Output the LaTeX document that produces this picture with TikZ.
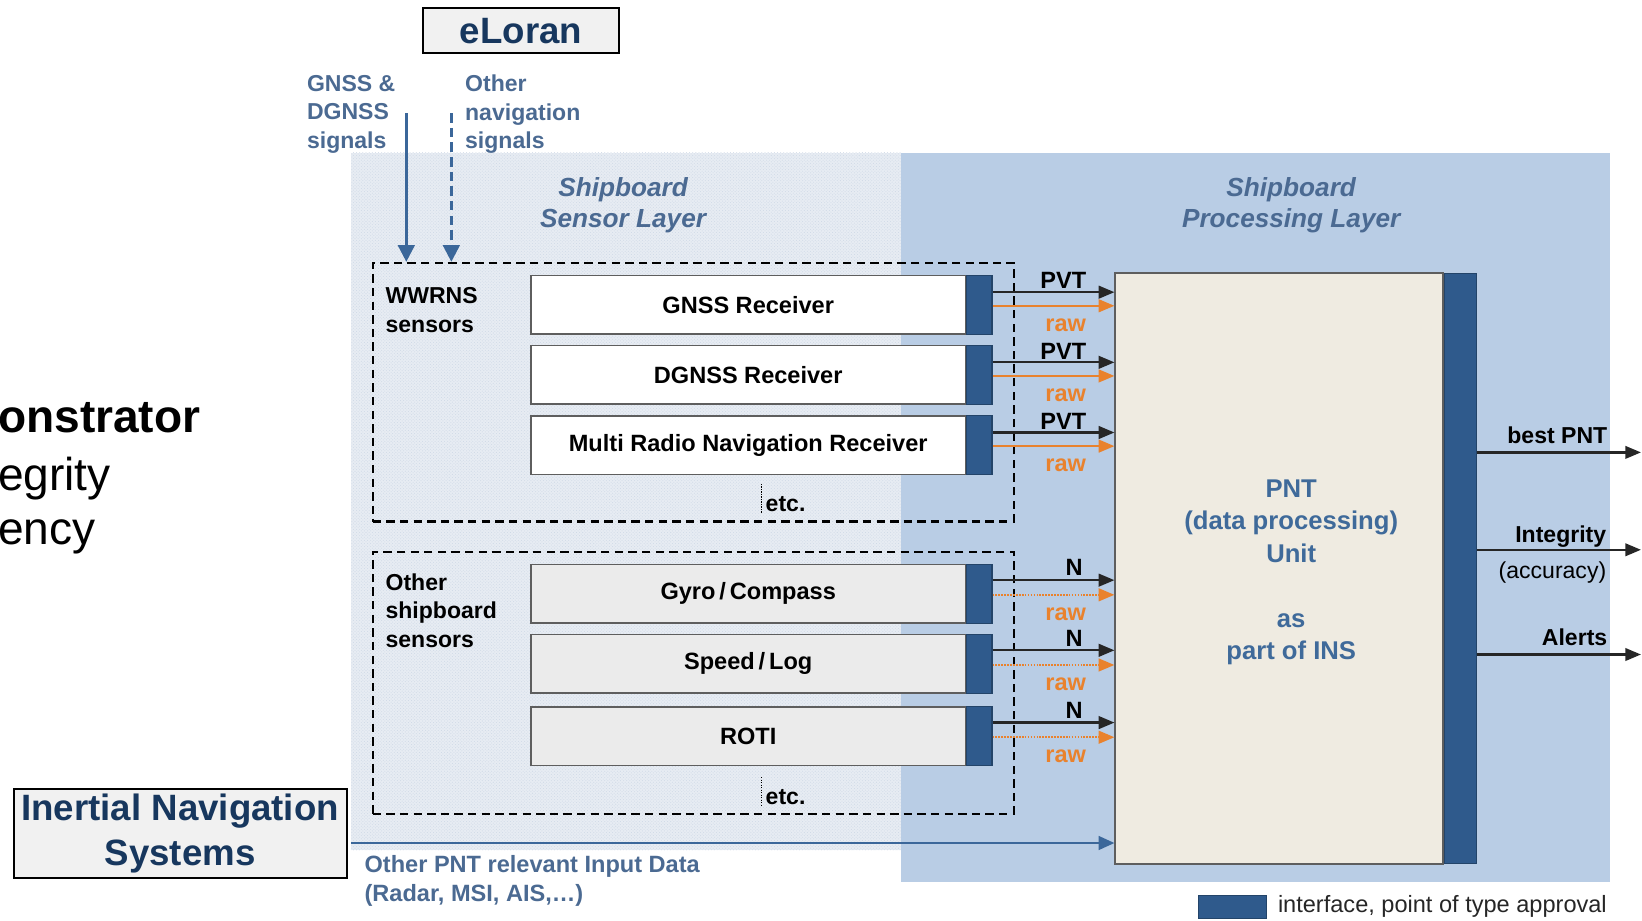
\documentclass[tikz,border=0pt]{standalone}
\usepackage{fontspec}
\setmainfont{Liberation Sans}
\usetikzlibrary{arrows.meta,patterns,positioning}

\definecolor{navy}{HTML}{17375E}
\definecolor{lblblue}{HTML}{4B6A92}
\definecolor{pnttxt}{HTML}{3F6A9A}
\definecolor{proclayer}{HTML}{B9CDE5}
\definecolor{senslayer}{HTML}{E7ECF3}
\definecolor{sensdots}{HTML}{CFD9E6}
\definecolor{ifblue}{HTML}{2F5A8C}
\definecolor{rawor}{HTML}{E9822D}
\definecolor{sigblue}{HTML}{3B679A}
\definecolor{boxgray}{HTML}{5E5E5E}
\definecolor{sensgray}{HTML}{EBEBEB}
\definecolor{pntfill}{HTML}{EFEBE1}
\definecolor{titlefill}{HTML}{F1F1F1}

\newcommand\fsz[2]{\fontsize{#1}{#2}\selectfont}

\tikzset{
  tip/.style={-{Triangle[length=15pt,width=12pt]}},
  sensorbox/.style={draw=boxgray, line width=1.6pt, minimum width=415pt,
    minimum height=56pt, inner sep=0pt, font=\fsz{22.5}{26}\bfseries},
  iface/.style={fill=ifblue, draw=ifblue!75!black, line width=1pt,
    minimum width=24pt, minimum height=56pt, inner sep=0pt},
  groupbox/.style={draw=black, line width=2pt, dash pattern=on 8pt off 5pt,
    minimum width=612pt, inner sep=0pt},
  grouplbl/.style={font=\fsz{22}{27}\bfseries, align=left, inner sep=0pt, anchor=west},
  siglbl/.style={font=\fsz{22}{27}\bfseries, text=lblblue, align=left, inner sep=0pt, anchor=west},
  layerlbl/.style={font=\fsz{25}{30}\bfseries\itshape, text=lblblue, align=center, inner sep=0pt},
  titlebox/.style={draw=black, line width=2pt, fill=titlefill, text=navy,
    font=\fsz{35}{43}\bfseries, align=center, inner sep=0pt},
  outarrow/.style={tip, line width=2.2pt, draw=black!85},
  rawarrow/.style={tip, line width=2.2pt, draw=rawor},
  rawdotted/.style={tip, line width=2.2pt, draw=rawor, dash pattern=on 1.6pt off 1.2pt},
  datalbl/.style={font=\fsz{22.5}{26}\bfseries, inner sep=0pt},
  rawlbl/.style={font=\fsz{22.5}{26}\bfseries, text=rawor, inner sep=0pt},
  outlbl/.style={font=\fsz{22}{26}\bfseries, inner sep=0pt, anchor=east},
  sigarrow/.style={-{Triangle[length=16pt,width=16pt]}, line width=2.5pt, draw=sigblue},
  etcline/.style={draw=black, line width=1.2pt, dash pattern=on 1.2pt off 1.2pt},
}

\begin{document}
\begin{tikzpicture}[x=1pt, y=-1pt]
\useasboundingbox (0,0) rectangle (1568,879);

% layer backgrounds
\fill[senslayer] (335,146) rectangle (860,812);
\fill[pattern=crosshatch dots, pattern color=sensdots] (335,146) rectangle (860,812);
\fill[proclayer] (860,146) rectangle (1537,842);

\node[layerlbl] (senslbl) at (595,196) {Shipboard\\Sensor Layer};
\node[layerlbl] (proclbl) at (1233,196) {Shipboard\\Processing Layer};

% slide text cut at the left edge
\node[anchor=west, inner sep=0pt, font=\fsz{44}{52}\bfseries] (sl1) at (-2,399) {onstrator};
\node[anchor=west, inner sep=0pt, font=\fsz{44}{52}] (sl2) at (-2,457) {egrity};
\node[anchor=west, inner sep=0pt, font=\fsz{44}{52}] (sl3) at (-2,513) {ency};

% title boxes
\node[titlebox, minimum width=187pt, minimum height=43pt] (eloran) at (497.5,29.5) {eLoran};
\node[titlebox, minimum width=318pt, minimum height=85pt] (ins) at (172,795.5) {Inertial Navigation\\Systems};

% sensor groups
\node[groupbox, minimum height=247pt] (wwrns) at (662,374.5) {};
\node[groupbox, minimum height=250pt] (other) at (662,652) {};
\node[grouplbl] (wwrnslbl) at (368,296) {WWRNS\\sensors};
\node[grouplbl] (otherlbl) at (368,583) {Other\\shipboard\\sensors};

% incoming signals
\node[siglbl] (gsiglbl) at (293,109) {GNSS \&\\DGNSS\\signals};
\node[siglbl] (osiglbl) at (444,109) {Other\\navigation\\signals};
\coordinate (gsig) at (388,108);
\coordinate (osig) at (431,108);
\draw[sigarrow] (gsig) -- (gsig |- wwrns.north);
\draw[sigarrow, dash pattern=on 9pt off 5pt] (osig) -- (osig |- wwrns.north);

% PNT unit
\node[draw=boxgray, line width=1.6pt, fill=pntfill, minimum width=313pt,
      minimum height=564pt, inner sep=0pt] (pnt) at (1221.5,543) {};
\node[iface, minimum width=31pt, minimum height=564pt, anchor=west] (if-pnt) at (pnt.east) {};
\node[font=\fsz{24.5}{31}\bfseries, text=pnttxt, align=center, inner sep=0pt] (pntlbl)
  at (1233,546.5) {PNT\\(data processing)\\Unit\\[31pt]as\\part of INS};

% receivers
\node[sensorbox, fill=white] (gnss) at (714.5,291) {GNSS Receiver};
\node[sensorbox, fill=white] (dgnss) at (714.5,358) {DGNSS Receiver};
\node[sensorbox, fill=white] (mrn) at (714.5,425) {Multi Radio Navigation Receiver};
% shipboard sensors
\node[sensorbox, fill=sensgray] (gyro) at (714.5,567) {Gyro\,/\,Compass};
\node[sensorbox, fill=sensgray] (speed) at (714.5,634) {Speed\,/\,Log};
\node[sensorbox, fill=sensgray] (roti) at (714.5,703) {ROTI};

\foreach \s in {gnss,dgnss,mrn,gyro,speed,roti}
  \node[iface, anchor=west] (if-\s) at (\s.east) {};

% etc. markers
\node[font=\fsz{22}{26}\bfseries, anchor=west, inner sep=0pt] (etc1) at (731,481) {etc.};
\node[font=\fsz{22}{26}\bfseries, anchor=west, inner sep=0pt] (etc2) at (731,761) {etc.};
\coordinate (etc1a) at (727,462);
\coordinate (etc2a) at (727,742);
\draw[etcline] (etc1a) -- ++(0,28);
\draw[etcline] (etc2a) -- ++(0,27);

% PVT / raw data flows
\foreach \s in {gnss,dgnss,mrn} {
  \coordinate (\s-pvt) at ([yshift=12pt]if-\s.east);
  \coordinate (\s-raw) at ([yshift=-1pt]if-\s.east);
  \draw[outarrow] (\s-pvt) -- (\s-pvt -| pnt.west)
    node[datalbl, pos=0.58, anchor=south, yshift=2pt] {PVT};
  \draw[rawarrow] (\s-raw) -- (\s-raw -| pnt.west)
    node[rawlbl, pos=0.6, anchor=north, yshift=-11pt] {raw};
}
% N / raw data flows
\foreach \s in {gyro,speed,roti} {
  \coordinate (\s-n) at ([yshift=13pt]if-\s.east);
  \coordinate (\s-raw) at ([yshift=-1pt]if-\s.east);
  \draw[outarrow] (\s-n) -- (\s-n -| pnt.west)
    node[datalbl, pos=0.67, anchor=south, yshift=3pt] {N};
  \draw[rawdotted] (\s-raw) -- (\s-raw -| pnt.west)
    node[rawlbl, pos=0.6, anchor=north, yshift=-11pt] {raw};
}

% other input data
\coordinate (opnt) at (335,805);
\draw[sigarrow, line width=2.2pt, -{Triangle[length=15pt,width=13pt]}] (opnt) -- (opnt -| pnt.west);
\node[font=\fsz{22.5}{28}\bfseries, text=lblblue, align=left, inner sep=0pt, anchor=west]
  (opntlbl) at (348,841) {Other PNT relevant Input Data\\(Radar, MSI, AIS,\dots)};

% outputs
\coordinate (out1) at (1567,432);
\coordinate (out2) at (1567,525);
\coordinate (out3) at (1567,625);
\draw[outarrow] (if-pnt.east |- out1) -- (out1);
\draw[outarrow] (if-pnt.east |- out2) -- (out2);
\draw[outarrow] (if-pnt.east |- out3) -- (out3);
\node[outlbl] (bestlbl) at (1535,416) {best PNT};
\node[outlbl] (intlbl) at (1534,512) {Integrity};
\node[outlbl, font=\fsz{22}{26}] (acclbl) at (1534,547) {(accuracy)};
\node[outlbl] (alertlbl) at (1535,609) {Alerts};

% legend
\node[fill=ifblue, draw=ifblue!75!black, minimum width=65pt, minimum height=22pt, inner sep=0pt]
  (legbox) at (1176.5,866) {};
\node[right=11pt of legbox, inner sep=0pt, font=\fsz{22.5}{26}, text=black!85] (leglbl)
  {interface, point of type approval};
\end{tikzpicture}
\end{document}
